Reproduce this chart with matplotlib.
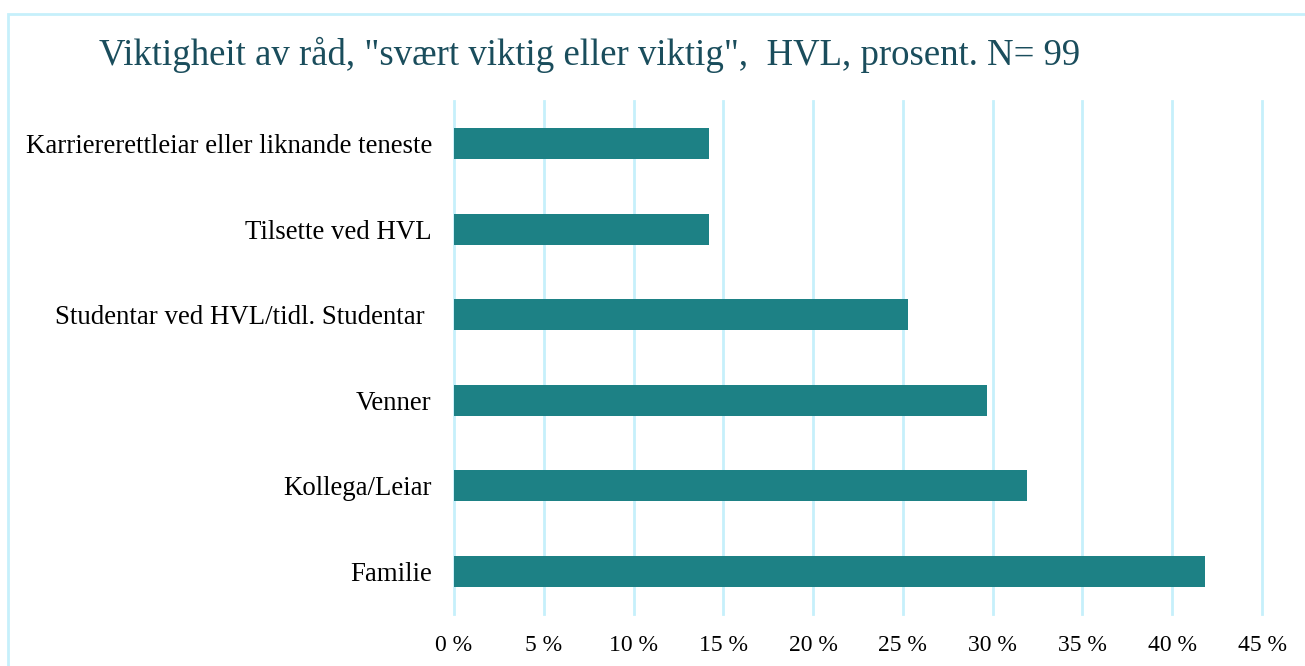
import matplotlib
matplotlib.use("Agg")
import matplotlib.pyplot as plt
from matplotlib.patches import Rectangle

categories = ["Karriererettleiar eller liknande teneste", "Tilsette ved HVL",
              "Studentar ved HVL/tidl. Studentar ", "Venner", "Kollega/Leiar", "Familie"]
values = [14.2, 14.2, 25.3, 29.7, 31.9, 41.8]
ticks = [0, 5, 10, 15, 20, 25, 30, 35, 40, 45]
tick_labels = [f"{t} %" for t in ticks]

plt.rcParams['font.family'] = ['Liberation Serif', 'DejaVu Serif']

fig = plt.figure(figsize=(13.05, 6.66), dpi=100)
W, H = 1305, 666
ax = fig.add_axes([454 / W, 1 - 614 / H, (1262 - 454) / W, (614 - 101) / H])

ypos = list(range(len(categories)))[::-1]
ax.barh(ypos, values, height=0.36, color="#1d8185", zorder=3)
ax.set_ylim(-0.5, len(categories) - 0.5)
ax.set_xlim(0, 45)
ax.set_xticks(ticks)
ax.set_xticklabels(tick_labels, fontsize=17)
ax.set_yticks(ypos)
ax.set_yticklabels(categories, fontsize=19.4)
ax.tick_params(axis='x', length=0, pad=15)
ax.tick_params(axis='y', length=0, pad=16)
for s in ax.spines.values():
    s.set_visible(False)
ax.grid(axis='x', color="#c6f0fb", linewidth=2, zorder=0)
for gl in ax.get_xgridlines():
    gl.set_clip_on(False)
ax.set_axisbelow(True)

fig.text(590 / W, 1 - 55 / H, "Viktigheit av råd, \"svært viktig eller viktig\",  HVL, prosent. N= 99",
         ha='center', va='center', fontsize=26.5, color="#1a4d5c")

fig.patches.append(Rectangle((8 / W, -0.05), 1.1, 1 - 14 / H + 0.05, transform=fig.transFigure,
                             fill=False, edgecolor="#c6f0fb", linewidth=2))

fig.savefig("out.png", dpi=100)
